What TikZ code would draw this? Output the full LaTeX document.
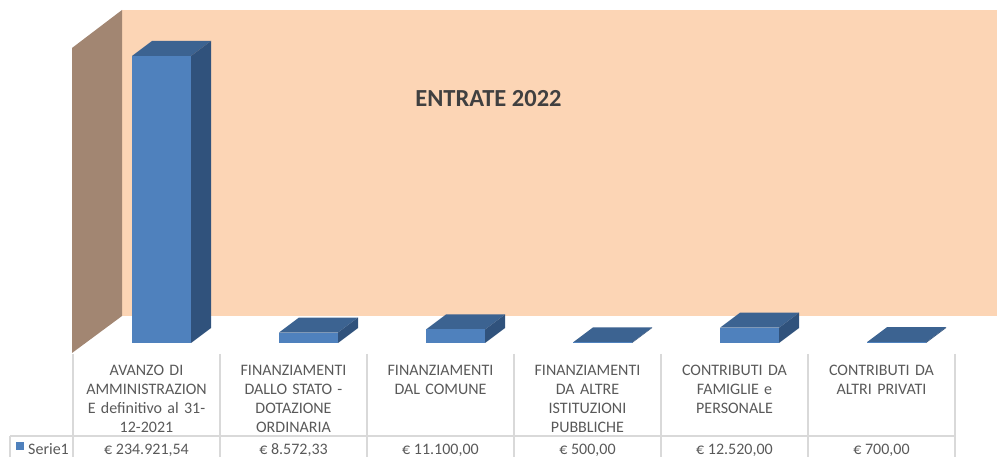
\documentclass[tikz,border=0pt]{standalone}
\usepackage{fontspec}
\setmainfont{Carlito}
\definecolor{wallback}{HTML}{FCD5B5}
\definecolor{wallside}{HTML}{A28672}
\definecolor{barfront}{HTML}{4F81BD}
\definecolor{bartop}{HTML}{3C6391}
\definecolor{barside}{HTML}{30527C}
\definecolor{gridgray}{HTML}{D9D9D9}
\definecolor{txtgray}{HTML}{595959}
\definecolor{titlegray}{HTML}{404040}
\tikzset{
  hdr/.style={anchor=north, inner sep=0pt, text width=144pt, align=center,
    font=\fontsize{16}{19}\selectfont, text=txtgray},
  val/.style={anchor=base, inner sep=0pt, font=\fontsize{16}{19}\selectfont, text=txtgray},
  gridline/.style={draw=gridgray, line width=1.2pt},
}
\begin{document}
\begin{tikzpicture}[x=1pt,y=-1pt]
\useasboundingbox (0,0) rectangle (997,457);
% walls
\fill[wallback] (122,10) rectangle (997,316);
\fill[wallside] (72,48) -- (122,10) -- (122,316) -- (72,353) -- cycle;
% title
\node[anchor=base, inner sep=0pt, font=\fontsize{24.5}{28}\selectfont\bfseries, text=titlegray] (title) at (488.5,107) {ENTRATE 2022};
% bars
\foreach \i/\h in {0/287, 1/10.47, 2/13.56, 3/0.61, 4/15.30, 5/0.86}{
  \pgfmathsetmacro{\xa}{132+147*\i}
  \pgfmathsetmacro{\xb}{\xa+59}
  \pgfmathsetmacro{\yt}{343-\h}
  \fill[bartop] (\xa,\yt) -- (\xb,\yt) -- ({\xb+20},{\yt-15}) -- ({\xa+20},{\yt-15}) -- cycle;
  \fill[barside] (\xb,\yt) -- ({\xb+20},{\yt-15}) -- ({\xb+20},328) -- (\xb,343) -- cycle;
  \fill[barfront] (\xa,\yt) rectangle (\xb,343);
}
% table grid
\foreach \c in {73,220,367,514,661,808,955}{
  \draw[gridline] (\c,354) -- (\c,457);
}
\draw[gridline] (10,436) -- (955,436);
\draw[gridline] (10,436) -- (10,457);
% headers
\node[hdr] (h1) at (146.5,362) {\strut AVANZO DI\\AMMINISTRAZION\\E definitivo al 31-\\12-2021};
\node[hdr] (h2) at (293.5,362) {\strut FINANZIAMENTI\\DALLO STATO -\\DOTAZIONE\\ORDINARIA};
\node[hdr] (h3) at (440.5,362) {\strut FINANZIAMENTI\\DAL COMUNE};
\node[hdr] (h4) at (587.5,362) {\strut FINANZIAMENTI\\DA ALTRE\\ISTITUZIONI\\PUBBLICHE};
\node[hdr] (h5) at (734.5,362) {\strut CONTRIBUTI DA\\FAMIGLIE e\\PERSONALE};
\node[hdr] (h6) at (881.5,362) {\strut CONTRIBUTI DA\\ALTRI PRIVATI};
% legend and values
\fill[barfront] (16,442) rectangle (24,450);
\node[val, anchor=base west] (ser) at (28,454) {Serie1};
\node[val] (v1) at (146.5,454) {€ 234.921,54};
\node[val] (v2) at (293.5,454) {€ 8.572,33};
\node[val] (v3) at (440.5,454) {€ 11.100,00};
\node[val] (v4) at (587.5,454) {€ 500,00};
\node[val] (v5) at (734.5,454) {€ 12.520,00};
\node[val] (v6) at (881.5,454) {€ 700,00};
\end{tikzpicture}
\end{document}
